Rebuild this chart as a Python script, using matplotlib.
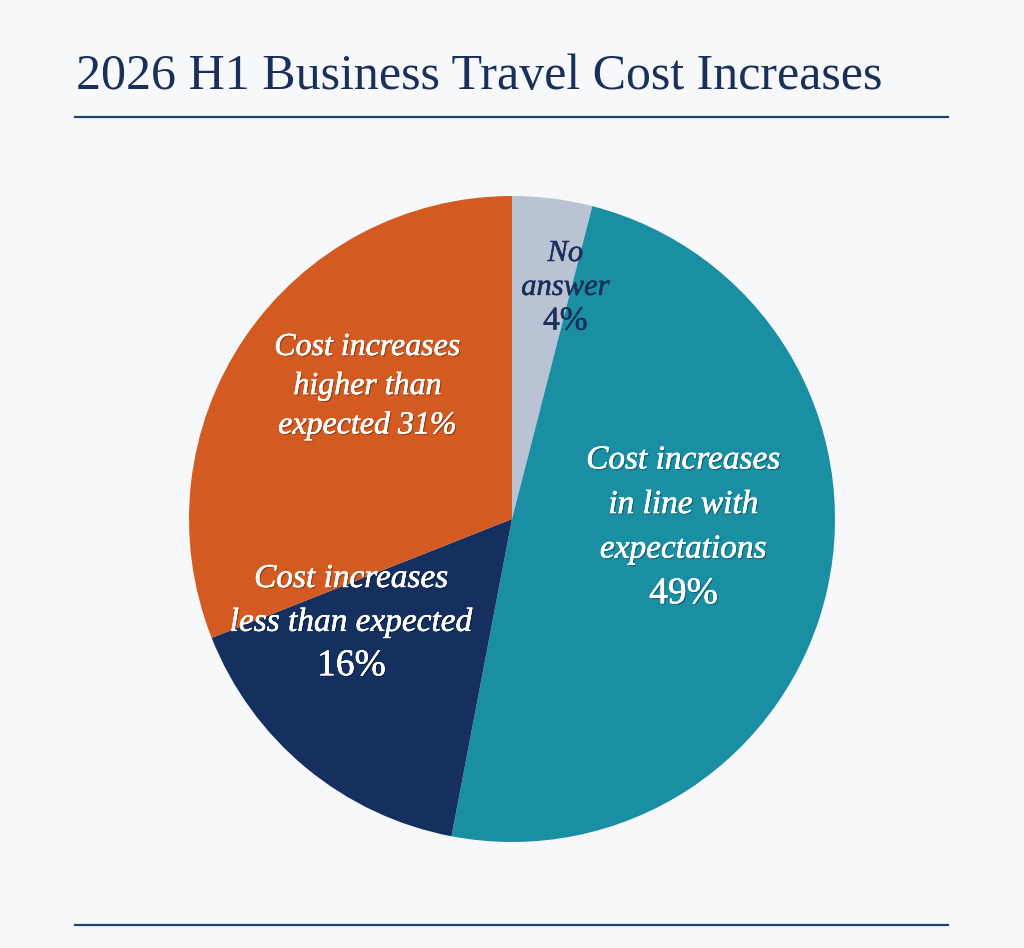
import matplotlib
matplotlib.use("Agg")
import matplotlib.pyplot as plt
import matplotlib.patheffects as pe

# ---- data ----
categories = ["No answer", "Cost increases in line with expectations",
              "Cost increases less than expected", "Cost increases higher than expected"]
values = [4, 49, 16, 31]
colors = ["#b9c3d3", "#1a8fa3", "#15305f", "#d35b22"]
title = "2026 H1 Business Travel Cost Increases"

# label lines per slice: (text, style, size)
label_lines = [
    [("No", "italic", 22), ("answer", "italic", 22), ("4%", "normal", 24)],
    [("Cost increases", "italic", 24), ("in line with", "italic", 24),
     ("expectations", "italic", 24), ("49%", "normal", 27)],
    [("Cost increases", "italic", 24), ("less than expected", "italic", 24), ("16%", "normal", 27)],
    [("Cost increases", "italic", 23), ("higher than", "italic", 23), ("expected 31%", "italic", 23)],
]
label_colors = ["#1b2f5b", "white", "white", "white"]
# label centres (data units relative to pie centre, radius = 1) and line spacing
label_pos = [(0.165, 0.717), (0.531, -0.025), (-0.497, -0.320), (-0.447, 0.410)]
label_spacing = [0.105, 0.138, 0.135, 0.121]

BG = "#f7f8fa"
NAVY = "#1b2f5b"
W, H = 1024, 948
fig = plt.figure(figsize=(W / 100, H / 100), dpi=100, facecolor=BG)

serif = ["Liberation Serif", "DejaVu Serif"]

# title
fig.text(76 / W, 1 - 89 / H, title, fontsize=36, family=serif, color=NAVY,
         ha="left", va="baseline")
# rules
for yp in (117, 925):
    fig.add_artist(plt.Line2D([75 / W, 948 / W], [1 - yp / H, 1 - yp / H],
                              color="#24406e", lw=1.6, transform=fig.transFigure))

# pie
cx, cy, r = 512, 519, 323
ax = fig.add_axes([(cx - r) / W, (H - cy - r) / H, 2 * r / W, 2 * r / H])
ax.set_facecolor(BG)
ax.pie(values, colors=colors, startangle=90, counterclock=False, radius=1,
       wedgeprops=dict(linewidth=0))
ax.set_xlim(-1, 1)
ax.set_ylim(-1, 1)
ax.set_aspect("equal")
ax.axis("off")

for lines, col, (x, y), sp in zip(label_lines, label_colors, label_pos, label_spacing):
    n = len(lines)
    if col == "white":
        effects = [pe.withSimplePatchShadow(offset=(1, -1), alpha=0.3, shadow_rgbFace="black"),
                   pe.withStroke(linewidth=0.35, foreground=col)]
    else:
        effects = [pe.withStroke(linewidth=0.35, foreground=col)]
    for i, (txt, style, size) in enumerate(lines):
        yy = y + (n - 1) / 2 * sp - i * sp
        ax.text(x, yy, txt, ha="center", va="center", fontsize=size,
                family=serif, style=style, color=col, path_effects=effects)

fig.savefig("out.png", dpi=100, facecolor=BG)
